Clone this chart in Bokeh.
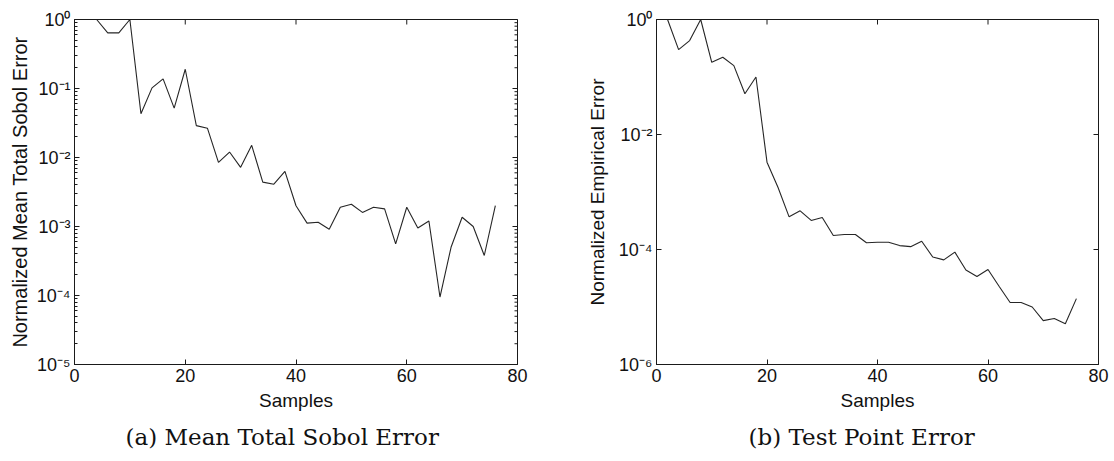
import math
from bokeh.plotting import figure
from bokeh.models import FixedTicker, Range1d, Title
from bokeh.layouts import row
from bokeh.embed import file_html
from bokeh.resources import INLINE

# ---------------- data ----------------
samples_a = [4, 6, 8, 10, 12, 14, 16, 18, 20, 22, 24, 26, 28, 30, 32, 34, 36, 38,
             40, 42, 44, 46, 48, 50, 52, 54, 56, 58, 60, 62, 64, 66, 68, 70, 72, 74, 76]
sobol_err = [1.0, 0.64, 0.64, 1.0, 0.043, 0.102, 0.138, 0.052, 0.19, 0.029, 0.0266,
             0.0085, 0.012, 0.0072, 0.015, 0.0044, 0.0041, 0.0063, 0.0020, 0.00112,
             0.00115, 0.00091, 0.0019, 0.0021, 0.0016, 0.0019, 0.0018, 0.00056, 0.0019,
             0.00095, 0.0012, 0.000095, 0.0005, 0.00136, 0.0010, 0.00038, 0.0020]

samples_b = [2, 4, 6, 8, 10, 12, 14, 16, 18, 20, 22, 24, 26, 28, 30, 32, 34, 36, 38,
             40, 42, 44, 46, 48, 50, 52, 54, 56, 58, 60, 62, 64, 66, 68, 70, 72, 74, 76]
test_err = [1.0, 0.30, 0.43, 1.0, 0.18, 0.22, 0.158, 0.051, 0.10, 0.0033, 0.0012,
            0.00037, 0.00047, 0.00032, 0.00036, 1.75e-4, 1.82e-4, 1.82e-4, 1.31e-4,
            1.34e-4, 1.34e-4, 1.17e-4, 1.12e-4, 1.39e-4, 7.4e-5, 6.6e-5, 9.0e-5,
            4.4e-5, 3.4e-5, 4.5e-5, 2.3e-5, 1.2e-5, 1.2e-5, 1.0e-5, 5.8e-6, 6.3e-6,
            5.1e-6, 1.4e-5]

x_ticks = [0, 20, 40, 60, 80]
y_ticks_a = [1e0, 1e-1, 1e-2, 1e-3, 1e-4, 1e-5]
y_labels_a = ["10\u2070", "10\u207b\u00b9", "10\u207b\u00b2", "10\u207b\u00b3",
              "10\u207b\u2074", "10\u207b\u2075"]
y_ticks_b = [1e0, 1e-2, 1e-4, 1e-6]
y_labels_b = ["10\u2070", "10\u207b\u00b2", "10\u207b\u2074", "10\u207b\u2076"]

x_label = "Samples"
y_label_a = "Normalized Mean Total Sobol Error"
y_label_b = "Normalized Empirical Error"
caption_a = "(a) Mean Total Sobol Error"
caption_b = "(b) Test Point Error"

SANS = "Liberation Sans"
AX_COLOR = "#1a1a1a"


def style_axis(ax):
    ax.axis_line_color = AX_COLOR
    ax.axis_line_width = 1
    ax.major_tick_line_color = AX_COLOR
    ax.minor_tick_line_color = AX_COLOR
    ax.major_tick_in = 5
    ax.major_tick_out = 0
    ax.minor_tick_in = 3
    ax.minor_tick_out = 0
    ax.major_label_text_font = SANS
    ax.major_label_text_font_size = "18px"
    ax.major_label_text_color = "#111111"
    ax.axis_label_text_font = SANS
    ax.axis_label_text_font_size = "19px"
    ax.axis_label_text_font_style = "normal"
    ax.axis_label_text_color = "#111111"


def make_panel(xs, ys, y_min, yticks, ylabels, ylabel, caption, border_left,
               border_right, width, minor, label_standoff, cap_offset, ylabel_size):
    p = figure(width=width, height=461, y_axis_type="log",
               x_range=Range1d(0, 80), y_range=Range1d(y_min, 1.0),
               output_backend="svg", toolbar_location=None,
               min_border_left=border_left, min_border_right=border_right,
               min_border_top=19, min_border_bottom=97)
    p.xgrid.visible = False
    p.ygrid.visible = False
    p.outline_line_color = AX_COLOR
    p.outline_line_width = 1
    p.background_fill_color = "white"
    p.border_fill_color = "white"

    xa = p.xaxis[0]
    xa.ticker = FixedTicker(ticks=x_ticks, minor_ticks=[])
    xa.axis_label = x_label
    style_axis(xa)
    xa.major_label_standoff = 4
    xa.axis_label_standoff = 5

    minor_ticks = [m * t for t in yticks[1:] for m in range(2, 10)] if minor else []
    ya = p.yaxis[0]
    ya.ticker = FixedTicker(ticks=yticks, minor_ticks=minor_ticks)
    ya.major_label_overrides = {t: l for t, l in zip(yticks, ylabels)}
    ya.axis_label = ylabel
    style_axis(ya)
    ya.axis_label_text_font_size = ylabel_size
    ya.major_label_standoff = 4
    ya.axis_label_standoff = label_standoff

    # mirrored inward ticks on the top and right edges (half of each dash is clipped away)
    x_end = p.x_range.end
    y_end = p.y_range.end
    p.scatter(x=[x_end] * len(yticks), y=yticks, marker="dash", size=10,
              line_color=AX_COLOR, line_width=1)
    if minor_ticks:
        p.scatter(x=[x_end] * len(minor_ticks), y=minor_ticks, marker="dash", size=6,
                  line_color=AX_COLOR, line_width=1)
    p.scatter(x=x_ticks, y=[y_end] * len(x_ticks), marker="dash", size=10,
              angle=math.pi / 2, line_color=AX_COLOR, line_width=1)

    p.line(xs, ys, line_color="#262626", line_width=1.1)

    cap = Title(text=caption, align="left", offset=cap_offset, standoff=16,
                text_font="DejaVu Serif", text_font_size="23px",
                text_font_style="normal", text_color="#111111")
    p.add_layout(cap, "below")
    return p


pa = make_panel(samples_a, sobol_err, 1e-5, y_ticks_a, y_labels_a, y_label_a,
                caption_a, 74, 40, 557, True, 3, 51, "20px")
pb = make_panel(samples_b, test_err, 1e-6, y_ticks_b, y_labels_b, y_label_b,
                caption_b, 99, 16, 557, False, 8, 92, "19px")

layout = row(pa, pb)
open("out.html", "w").write(file_html(layout, INLINE))
